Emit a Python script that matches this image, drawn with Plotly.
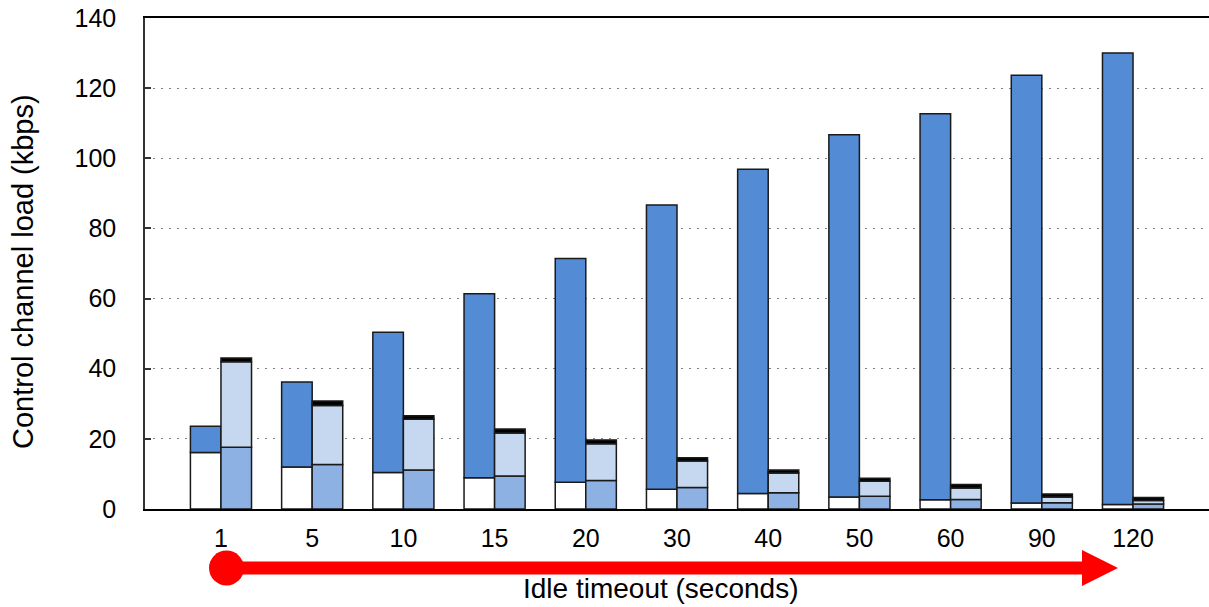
import plotly.graph_objects as go

categories = ["1", "5", "10", "15", "20", "30", "40", "50", "60", "90", "120"]

# Left bar segments (kbps)
left_white = [16.1, 12.0, 10.4, 8.9, 7.6, 5.6, 4.4, 3.4, 2.65, 1.7, 1.3]
left_blue = [7.5, 24.2, 40.0, 52.5, 63.8, 81.1, 92.5, 103.3, 110.05, 122.0, 128.7]

# Right bar segments (kbps)
right_mid = [17.6, 12.7, 11.1, 9.4, 8.15, 6.1, 4.6, 3.6, 2.7, 1.8, 1.4]
right_light = [24.4, 16.8, 14.5, 12.3, 10.45, 7.6, 5.7, 4.3, 3.3, 1.6, 1.05]
right_black = [1.05, 1.3, 1.0, 1.1, 1.1, 0.9, 0.8, 0.9, 1.0, 0.9, 0.85]

y_ticks = [0, 20, 40, 60, 80, 100, 120, 140]

x = list(range(len(categories)))
BW = 0.335
EDGE = dict(color="#1a1a1a", width=1.5)


def cumulative(*series):
    out = []
    acc = [0.0] * len(series[0])
    for s in series:
        out.append(list(acc))
        acc = [a + v for a, v in zip(acc, s)]
    return out


lb_white, lb_blue = cumulative(left_white, left_blue)
rb_mid, rb_light, rb_black = cumulative(right_mid, right_light, right_black)

fig = go.Figure()


def add(vals, base, color, offset):
    fig.add_trace(go.Bar(
        x=x, y=vals, base=base, width=BW, offset=offset,
        marker=dict(color=color, line=EDGE), showlegend=False,
    ))


add(left_white, lb_white, "#ffffff", -BW)
add(left_blue, lb_blue, "#538bd5", -BW)
add(right_mid, rb_mid, "#8eb1e3", 0)
add(right_light, rb_light, "#c6d8ef", 0)
add(right_black, rb_black, "#000000", 0)

# Plot-area geometry in pixels (for decorative arrow)
L, R, T, B = 145, 1209, 18, 509
W, H = R - L, B - T


def px(xp):
    return (xp - L) / W


def py(yp):
    return (B - yp) / H


shapes = [
    dict(type="rect", xref="paper", yref="paper",
         x0=px(226), x1=px(1084), y0=py(574.5), y1=py(561.5),
         fillcolor="#ff0000", line=dict(width=0), layer="above"),
    dict(type="circle", xref="paper", yref="paper",
         x0=px(209), x1=px(244), y0=py(585.5), y1=py(550.5),
         fillcolor="#ff0000", line=dict(width=0), layer="above"),
    dict(type="path", xref="paper", yref="paper",
         path=f"M {px(1082)} {py(550)} L {px(1118)} {py(568)} L {px(1082)} {py(586)} Z",
         fillcolor="#ff0000", line=dict(width=0), layer="above"),
]

fig.update_layout(
    width=1209, height=607,
    margin=dict(l=L, r=1209 - R, t=T, b=607 - B),
    paper_bgcolor="white", plot_bgcolor="white",
    barmode="overlay",
    font=dict(family="Liberation Sans, Arial, sans-serif", size=25, color="black"),
    shapes=shapes,
    annotations=[
        dict(text="Idle timeout (seconds)", xref="paper", yref="paper",
             x=px(660), y=py(588), xanchor="center", yanchor="middle",
             showarrow=False, font=dict(size=28, color="black")),
        dict(text="Control channel load (kbps)", xref="paper", yref="paper",
             x=px(23), y=py(272), xanchor="center", yanchor="middle",
             textangle=-90, showarrow=False, font=dict(size=29, color="black")),
    ],
)

fig.update_xaxes(
    range=[-0.833, 10.833],
    tickmode="array", tickvals=x, ticktext=categories,
    showline=True, linecolor="black", linewidth=1.5, mirror=True,
    showgrid=False, ticks="", zeroline=False,
    ticklabelstandoff=6,
)

fig.update_yaxes(
    range=[0, 140],
    tickmode="array", tickvals=y_ticks,
    showline=True, linecolor="#333333", linewidth=1.5,
    ticks="inside", ticklen=6, tickcolor="#333333", tickwidth=1.5,
    showgrid=True, gridcolor="#7f7f7f", gridwidth=1, griddash="2px,6px",
    zeroline=False,
    ticklabelstandoff=22,
)

fig.write_html("out.html")
